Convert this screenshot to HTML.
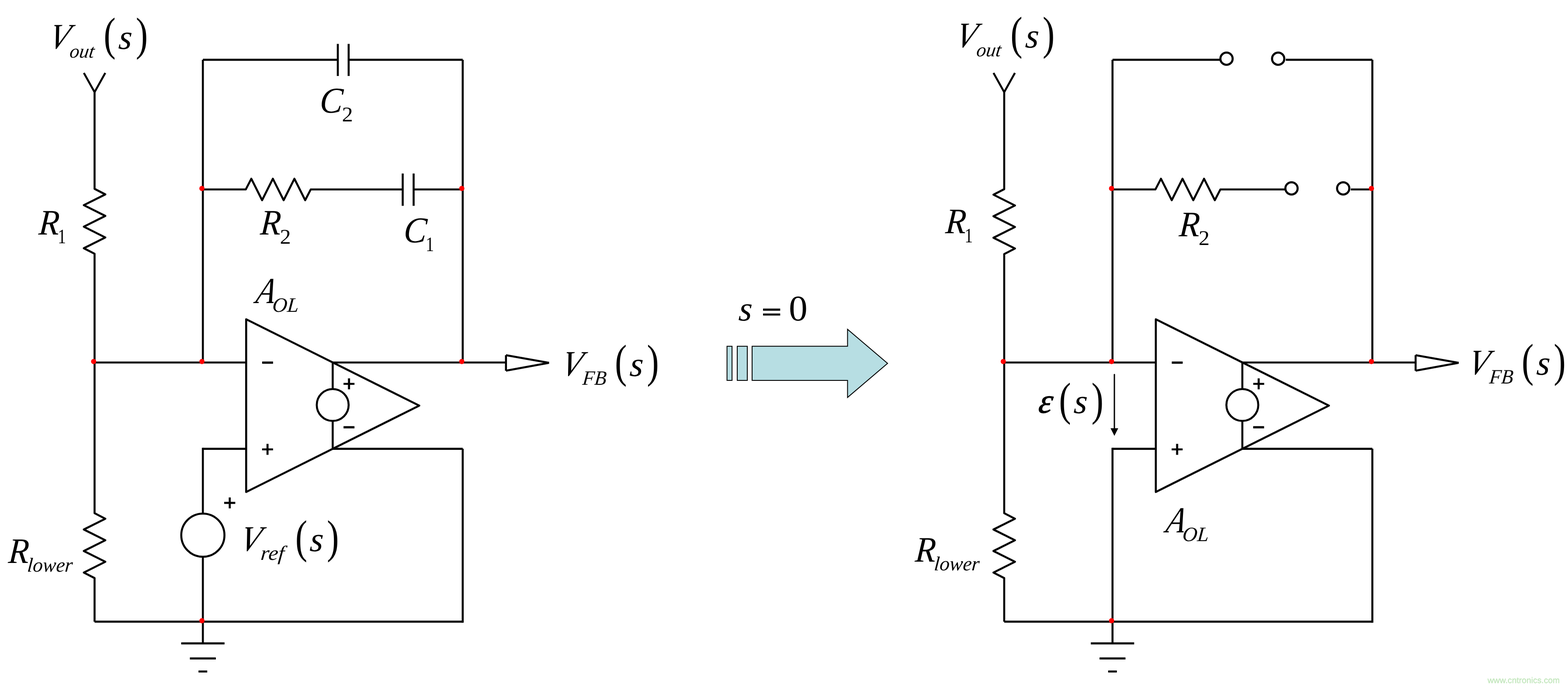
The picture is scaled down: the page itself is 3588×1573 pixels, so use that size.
<!DOCTYPE html>
<html lang="en">
<head>
<meta charset="utf-8">
<title>Op-amp compensator at s = 0</title>
<style>
html,body{margin:0;padding:0;background:#fff;}
body{width:3588px;height:1573px;overflow:hidden;}
svg{display:block;will-change:transform;}
text{text-rendering:geometricPrecision;}
</style>
</head>
<body>
<svg width="3588" height="1573" viewBox="0 0 3588 1573" role="img" aria-label="Op-amp type 2 compensator and its equivalent circuit at s = 0">
<g fill="none" stroke="#000" stroke-width="4.60" stroke-linejoin="round" stroke-linecap="butt">
<polyline points="191.90,167.00 216.40,211.00 240.90,167.00" />
<polyline points="216.40,211.00 216.40,432.40 241.00,445.10 191.80,469.75 241.00,494.40 191.80,519.05 241.00,543.70 191.80,568.35 216.40,581.05 216.40,1175.00 241.00,1187.70 191.80,1212.35 241.00,1237.00 191.80,1261.65 241.00,1286.30 191.80,1310.95 216.40,1323.65 216.40,1423.40" />
<line x1="216.40" y1="1423.40" x2="1058.80" y2="1423.40" />
<line x1="1058.80" y1="1425.70" x2="1058.80" y2="1027.60" />
<line x1="1058.80" y1="1027.60" x2="761.30" y2="1027.60" />
<line x1="216.40" y1="830.00" x2="563.30" y2="830.00" />
<line x1="464.20" y1="136.90" x2="464.20" y2="830.00" />
<line x1="1058.80" y1="136.90" x2="1058.80" y2="830.00" />
<line x1="761.30" y1="830.00" x2="1157.80" y2="830.00" />
<line x1="1157.80" y1="813.20" x2="1157.80" y2="848.90" />
<line x1="1157.80" y1="813.30" x2="1256.30" y2="830.70" />
<line x1="1157.80" y1="848.80" x2="1256.30" y2="830.70" />
<polygon points="563.30,731.00 959.40,928.70 563.30,1126.50"/>
<line x1="761.30" y1="830.00" x2="761.30" y2="890.80" />
<line x1="761.30" y1="963.80" x2="761.30" y2="1027.60" />
<circle cx="761.30" cy="927.30" r="36.50" />
<line x1="563.30" y1="1027.60" x2="464.20" y2="1027.60" />
<line x1="464.20" y1="1025.30" x2="464.20" y2="1176.00" />
<line x1="464.20" y1="1274.80" x2="464.20" y2="1473.10" />
<circle cx="464.20" cy="1225.40" r="49.40" />
<line x1="414.60" y1="1473.10" x2="513.80" y2="1473.10" />
<line x1="434.50" y1="1507.60" x2="493.90" y2="1507.60" />
<line x1="454.20" y1="1537.50" x2="474.20" y2="1537.50" />
<line x1="464.20" y1="136.90" x2="773.00" y2="136.90" />
<line x1="797.80" y1="136.90" x2="1058.80" y2="136.90" />
<line x1="773.00" y1="100.50" x2="773.00" y2="174.00" />
<line x1="797.80" y1="100.50" x2="797.80" y2="174.00" />
<polyline points="464.20,433.80 562.40,433.80 575.10,409.20 599.75,458.40 624.40,409.20 649.05,458.40 673.70,409.20 698.35,458.40 711.05,433.80 921.50,433.80" />
<line x1="921.50" y1="397.30" x2="921.50" y2="471.30" />
<line x1="946.50" y1="397.30" x2="946.50" y2="471.30" />
<line x1="946.50" y1="433.80" x2="1058.80" y2="433.80" />
<polyline points="2273.40,167.00 2297.90,211.00 2322.40,167.00" />
<polyline points="2297.90,211.00 2297.90,433.10 2273.30,445.80 2322.50,470.45 2273.30,495.10 2322.50,519.75 2273.30,544.40 2322.50,569.05 2297.90,581.75 2297.90,1175.00 2322.50,1187.70 2273.30,1212.35 2322.50,1237.00 2273.30,1261.65 2322.50,1286.30 2273.30,1310.95 2297.90,1323.65 2297.90,1423.40" />
<line x1="2297.90" y1="1423.40" x2="3140.30" y2="1423.40" />
<line x1="3140.30" y1="1425.70" x2="3140.30" y2="1027.60" />
<line x1="3140.30" y1="1027.60" x2="2842.80" y2="1027.60" />
<line x1="2297.90" y1="830.00" x2="2644.80" y2="830.00" />
<line x1="2545.70" y1="136.90" x2="2545.70" y2="830.00" />
<line x1="3140.30" y1="136.90" x2="3140.30" y2="830.00" />
<line x1="2842.80" y1="830.00" x2="3239.30" y2="830.00" />
<line x1="3239.30" y1="813.20" x2="3239.30" y2="848.90" />
<line x1="3239.30" y1="813.30" x2="3337.80" y2="830.70" />
<line x1="3239.30" y1="848.80" x2="3337.80" y2="830.70" />
<polygon points="2644.80,731.00 3040.90,928.70 2644.80,1126.50"/>
<line x1="2842.80" y1="830.00" x2="2842.80" y2="890.80" />
<line x1="2842.80" y1="963.80" x2="2842.80" y2="1027.60" />
<circle cx="2842.80" cy="927.30" r="36.50" />
<line x1="2644.80" y1="1027.60" x2="2545.70" y2="1027.60" />
<line x1="2545.70" y1="1025.30" x2="2545.70" y2="1473.10" />
<line x1="2496.10" y1="1473.10" x2="2595.30" y2="1473.10" />
<line x1="2516.00" y1="1507.60" x2="2575.40" y2="1507.60" />
<line x1="2535.70" y1="1537.50" x2="2555.70" y2="1537.50" />
<line x1="2545.70" y1="136.90" x2="2792.00" y2="136.90" />
<line x1="2942.30" y1="136.90" x2="3140.30" y2="136.90" />
<circle cx="2806.60" cy="134.40" r="14.00" stroke-width="4.8"/>
<circle cx="2924.80" cy="134.40" r="14.00" stroke-width="4.8"/>
<polyline points="2545.70,433.80 2643.90,433.80 2656.60,409.20 2681.25,458.40 2705.90,409.20 2730.55,458.40 2755.20,409.20 2779.85,458.40 2792.55,433.80 2940.00,433.80" />
<line x1="3091.00" y1="433.80" x2="3140.30" y2="433.80" />
<circle cx="2955.30" cy="431.30" r="14.00" stroke-width="4.8"/>
<circle cx="3073.60" cy="431.30" r="14.00" stroke-width="4.8"/>
</g>
<line x1="2550" y1="857.5" x2="2550" y2="982" stroke="#000" stroke-width="3" stroke-linecap="round"/>
<polygon points="2541.2,980.4 2558.8,980.4 2550,998" fill="#000"/>
<g fill="#f00">
<circle cx="462.10" cy="431.60" r="6.00" />
<circle cx="1056.70" cy="431.60" r="6.00" />
<circle cx="214.30" cy="827.80" r="6.00" />
<circle cx="462.10" cy="827.80" r="6.00" />
<circle cx="1056.70" cy="827.80" r="6.00" />
<circle cx="462.10" cy="1421.20" r="6.00" />
<circle cx="2543.60" cy="431.60" r="6.00" />
<circle cx="3138.20" cy="431.60" r="6.00" />
<circle cx="2295.80" cy="827.80" r="6.00" />
<circle cx="2543.60" cy="827.80" r="6.00" />
<circle cx="3138.20" cy="827.80" r="6.00" />
<circle cx="2543.60" cy="1421.20" r="6.00" />
</g>
<g fill="#b7dee3" stroke="#000" stroke-width="2" stroke-linejoin="miter">
<rect x="1663.6" y="792.8" width="11.5" height="78.2"/>
<rect x="1687" y="792.8" width="23" height="78.2"/>
<polygon points="1721,792.8 1939.4,792.8 1939.4,754 2031,832 1939.4,910 1939.4,871 1721,871"/>
</g>
<g fill="#000" opacity="0.999">
<text transform="matrix(0.7501 0 -0.1875 0.8209 108.15 110.87)" font-family="'Liberation Serif',serif" font-style="italic" font-size="100">V</text>
<text transform="matrix(0.4390 0 -0.0615 0.4392 158.01 131.51)" font-family="'Liberation Serif',serif" font-style="italic" font-size="100">out</text>
<text transform="matrix(0.8233 0 -0.0000 1.0648 237.30 114.37)" font-family="'Liberation Serif',serif" font-size="100">(</text>
<text transform="matrix(0.7875 0 -0.0630 0.7958 269.88 111.50)" font-family="'Liberation Serif',serif" font-style="italic" font-size="100">s</text>
<text transform="matrix(0.8273 0 -0.0000 1.0648 310.81 114.37)" font-family="'Liberation Serif',serif" font-size="100">)</text>
<text transform="matrix(0.7702 0 -0.0539 0.8214 87.48 536.80)" font-family="'Liberation Serif',serif" font-style="italic" font-size="100">R</text>
<text transform="matrix(0.3758 0 -0.0000 0.4697 132.14 557.30)" font-family="'Liberation Serif',serif" font-size="100">1</text>
<text transform="matrix(0.7702 0 -0.0539 0.8214 17.88 1288.60)" font-family="'Liberation Serif',serif" font-style="italic" font-size="100">R</text>
<text transform="matrix(0.4557 0 -0.0365 0.4575 61.55 1308.94)" font-family="'Liberation Serif',serif" font-style="italic" font-size="100">lower</text>
<text transform="matrix(0.7501 0 -0.1875 0.8209 1280.65 859.77)" font-family="'Liberation Serif',serif" font-style="italic" font-size="100">V</text>
<text transform="matrix(0.4451 0 -0.0445 0.4654 1332.02 881.18)" font-family="'Liberation Serif',serif" font-style="italic" font-size="100">FB</text>
<text transform="matrix(0.8233 0 -0.0000 1.0648 1407.10 863.47)" font-family="'Liberation Serif',serif" font-size="100">(</text>
<text transform="matrix(0.7875 0 -0.0630 0.7958 1439.78 861.00)" font-family="'Liberation Serif',serif" font-style="italic" font-size="100">s</text>
<text transform="matrix(0.8273 0 -0.0000 1.0648 1480.31 863.47)" font-family="'Liberation Serif',serif" font-size="100">)</text>
<text transform="matrix(0.7501 0 -0.1875 0.8209 2183.15 108.17)" font-family="'Liberation Serif',serif" font-style="italic" font-size="100">V</text>
<text transform="matrix(0.4390 0 -0.0615 0.4392 2233.01 128.81)" font-family="'Liberation Serif',serif" font-style="italic" font-size="100">out</text>
<text transform="matrix(0.8233 0 -0.0000 1.0648 2312.30 111.67)" font-family="'Liberation Serif',serif" font-size="100">(</text>
<text transform="matrix(0.7875 0 -0.0630 0.7958 2344.88 108.80)" font-family="'Liberation Serif',serif" font-style="italic" font-size="100">s</text>
<text transform="matrix(0.8273 0 -0.0000 1.0648 2385.81 111.67)" font-family="'Liberation Serif',serif" font-size="100">)</text>
<text transform="matrix(0.7702 0 -0.0539 0.8214 2162.48 534.10)" font-family="'Liberation Serif',serif" font-style="italic" font-size="100">R</text>
<text transform="matrix(0.3758 0 -0.0000 0.4697 2207.14 554.60)" font-family="'Liberation Serif',serif" font-size="100">1</text>
<text transform="matrix(0.7702 0 -0.0539 0.8214 2092.88 1285.90)" font-family="'Liberation Serif',serif" font-style="italic" font-size="100">R</text>
<text transform="matrix(0.4557 0 -0.0365 0.4575 2136.55 1306.24)" font-family="'Liberation Serif',serif" font-style="italic" font-size="100">lower</text>
<text transform="matrix(0.7501 0 -0.1875 0.8209 3355.65 857.07)" font-family="'Liberation Serif',serif" font-style="italic" font-size="100">V</text>
<text transform="matrix(0.4451 0 -0.0445 0.4654 3407.02 878.48)" font-family="'Liberation Serif',serif" font-style="italic" font-size="100">FB</text>
<text transform="matrix(0.8233 0 -0.0000 1.0648 3482.10 860.77)" font-family="'Liberation Serif',serif" font-size="100">(</text>
<text transform="matrix(0.7875 0 -0.0630 0.7958 3514.78 858.30)" font-family="'Liberation Serif',serif" font-style="italic" font-size="100">s</text>
<text transform="matrix(0.8273 0 -0.0000 1.0648 3555.31 860.77)" font-family="'Liberation Serif',serif" font-size="100">)</text>
<text transform="matrix(0.7702 0 -0.0539 0.8214 594.58 537.00)" font-family="'Liberation Serif',serif" font-style="italic" font-size="100">R</text>
<text transform="matrix(0.5034 0 -0.0000 0.4800 640.50 557.60)" font-family="'Liberation Serif',serif" font-size="100">2</text>
<text transform="matrix(0.7702 0 -0.0539 0.8214 2696.88 540.50)" font-family="'Liberation Serif',serif" font-style="italic" font-size="100">R</text>
<text transform="matrix(0.5034 0 -0.0000 0.4800 2742.80 561.10)" font-family="'Liberation Serif',serif" font-size="100">2</text>
<text transform="matrix(0.6987 0 -0.1887 0.8394 583.02 693.90)" font-family="'Liberation Serif',serif" font-style="italic" font-size="100">A</text>
<text transform="matrix(0.4723 0 -0.0378 0.4684 622.14 714.33)" font-family="'Liberation Serif',serif" font-style="italic" font-size="100">OL</text>
<text transform="matrix(0.6987 0 -0.1887 0.8394 2665.62 1218.50)" font-family="'Liberation Serif',serif" font-style="italic" font-size="100">A</text>
<text transform="matrix(0.4723 0 -0.0378 0.4684 2704.74 1238.93)" font-family="'Liberation Serif',serif" font-style="italic" font-size="100">OL</text>
<text transform="matrix(0.7857 0 -0.0629 0.8343 730.16 257.77)" font-family="'Liberation Serif',serif" font-style="italic" font-size="100">C</text>
<text transform="matrix(0.5034 0 -0.0000 0.4800 782.60 277.60)" font-family="'Liberation Serif',serif" font-size="100">2</text>
<text transform="matrix(0.7857 0 -0.0629 0.8343 922.36 554.57)" font-family="'Liberation Serif',serif" font-style="italic" font-size="100">C</text>
<text transform="matrix(0.3758 0 -0.0000 0.4697 974.24 574.80)" font-family="'Liberation Serif',serif" font-size="100">1</text>
<text transform="matrix(0.7501 0 -0.1875 0.8209 545.55 1261.27)" font-family="'Liberation Serif',serif" font-style="italic" font-size="100">V</text>
<text transform="matrix(0.5037 0 -0.0403 0.4671 595.52 1282.17)" font-family="'Liberation Serif',serif" font-style="italic" font-size="100">ref</text>
<text transform="matrix(0.8233 0 -0.0000 1.0648 675.80 1264.97)" font-family="'Liberation Serif',serif" font-size="100">(</text>
<text transform="matrix(0.7875 0 -0.0630 0.7958 707.68 1262.20)" font-family="'Liberation Serif',serif" font-style="italic" font-size="100">s</text>
<text transform="matrix(0.8273 0 -0.0000 1.0648 747.91 1264.97)" font-family="'Liberation Serif',serif" font-size="100">)</text>
<text stroke="#000" stroke-width="1.6" transform="matrix(0.7881 0 -0.1182 0.7958 2374.40 945.40)" font-family="'Liberation Serif',serif" font-style="italic" font-size="100">&#949;</text>
<text transform="matrix(0.8233 0 -0.0000 1.0648 2423.30 949.67)" font-family="'Liberation Serif',serif" font-size="100">(</text>
<text transform="matrix(0.7875 0 -0.0630 0.7958 2456.08 946.00)" font-family="'Liberation Serif',serif" font-style="italic" font-size="100">s</text>
<text transform="matrix(0.8273 0 -0.0000 1.0648 2497.51 949.67)" font-family="'Liberation Serif',serif" font-size="100">)</text>
<text transform="matrix(0.7875 0 -0.0630 0.7958 1688.98 733.70)" font-family="'Liberation Serif',serif" font-style="italic" font-size="100">s</text>
<text stroke="#000" stroke-width="1.85" transform="matrix(0.8129 0 -0.0000 0.5556 1742.84 732.60)" font-family="'Liberation Serif',serif" font-weight="bold" font-size="100">=</text>
<text transform="matrix(0.8565 0 -0.0000 0.8296 1805.09 733.67)" font-family="'Liberation Serif',serif" font-size="100">0</text>
<text transform="matrix(0.4988 0 -0.0000 0.4727 597.74 845.62)" font-family="'Liberation Sans',sans-serif" font-weight="bold" font-size="100">&#8722;</text>
<text stroke="#fff" stroke-width="1.6" transform="matrix(0.5187 0 -0.0000 0.5123 597.10 1045.63)" font-family="'Liberation Sans',sans-serif" font-weight="bold" font-size="100">+</text>
<text stroke="#fff" stroke-width="1.6" transform="matrix(0.5187 0 -0.0000 0.5123 783.40 896.33)" font-family="'Liberation Sans',sans-serif" font-weight="bold" font-size="100">+</text>
<text transform="matrix(0.4988 0 -0.0000 0.4727 784.04 993.82)" font-family="'Liberation Sans',sans-serif" font-weight="bold" font-size="100">&#8722;</text>
<text transform="matrix(0.4988 0 -0.0000 0.4727 2679.24 845.62)" font-family="'Liberation Sans',sans-serif" font-weight="bold" font-size="100">&#8722;</text>
<text stroke="#fff" stroke-width="1.6" transform="matrix(0.5187 0 -0.0000 0.5123 2678.60 1045.63)" font-family="'Liberation Sans',sans-serif" font-weight="bold" font-size="100">+</text>
<text stroke="#fff" stroke-width="1.6" transform="matrix(0.5187 0 -0.0000 0.5123 2864.90 896.33)" font-family="'Liberation Sans',sans-serif" font-weight="bold" font-size="100">+</text>
<text transform="matrix(0.4988 0 -0.0000 0.4727 2865.54 993.82)" font-family="'Liberation Sans',sans-serif" font-weight="bold" font-size="100">&#8722;</text>
<text stroke="#fff" stroke-width="1.6" transform="matrix(0.5187 0 -0.0000 0.5123 510.60 1168.43)" font-family="'Liberation Sans',sans-serif" font-weight="bold" font-size="100">+</text>
</g>
<text fill="#c2e6bc" stroke="#c2e6bc" stroke-width="2" opacity="0.999" transform="matrix(0.1931 0 -0.0000 0.1905 3403.92 1564.31)" font-family="'Liberation Sans',sans-serif" font-size="100">www.cntronics.com</text>
</svg>
</body>
</html>
